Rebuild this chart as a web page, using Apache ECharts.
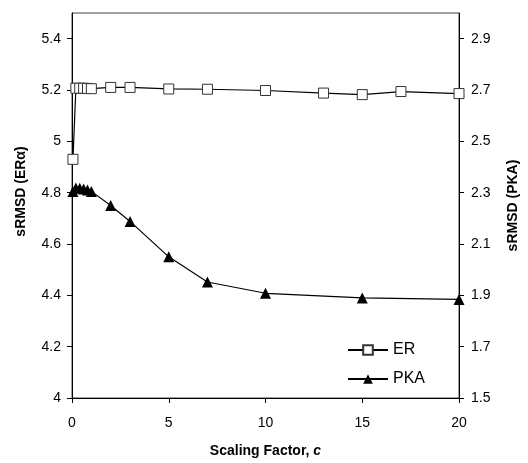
<!DOCTYPE html>
<html>
<head>
<meta charset="utf-8">
<script src="https://cdn.jsdelivr.net/npm/echarts@6/dist/echarts.min.js"></script>
<style>html,body{margin:0;padding:0;background:#fff}#c{width:528px;height:463px}</style>
</head>
<body>
<div id="c"></div>
<script>
const erC   = [0.05, 0.2, 0.4, 0.6, 0.8, 1, 2, 3, 5, 7, 10, 13, 15, 17, 20];
const erVal = [4.93, 5.207, 5.207, 5.207, 5.206, 5.205, 5.21, 5.21, 5.204, 5.203, 5.198, 5.188, 5.182, 5.194, 5.186];
const pkaC   = [0.05, 0.2, 0.4, 0.6, 0.8, 1, 2, 3, 5, 7, 10, 15, 20];
const pkaVal = [2.305, 2.318, 2.317, 2.314, 2.31, 2.305, 2.25, 2.188, 2.05, 1.952, 1.908, 1.89, 1.884];
const xTicks = [0, 5, 10, 15, 20];
const leftTicks = [4, 4.2, 4.4, 4.6, 4.8, 5, 5.2, 5.4];
const rightTicks = [1.5, 1.7, 1.9, 2.1, 2.3, 2.5, 2.7, 2.9];

const font = 'Liberation Sans, Arial, sans-serif';
const chart = echarts.init(document.getElementById('c'));
chart.setOption({
  animation: false,
  backgroundColor: '#fff',
  grid: {left: 72, right: 63, top: 13, bottom: 63, show: true, borderColor: '#444', borderWidth: 1},
  legend: {
    orient: 'vertical', left: 347, top: 342, padding: 0, itemWidth: 40, itemHeight: 12, itemGap: 13,
    textStyle: {fontFamily: font, fontSize: 16, color: '#000'},
    data: ['ER', 'PKA']
  },
  xAxis: {
    type: 'value', min: 0, max: 20,
    axisLine: {show: true, lineStyle: {color: '#000', width: 1}},
    axisTick: {show: true, length: 5, customValues: xTicks, lineStyle: {color: '#000'}},
    axisLabel: {customValues: xTicks, margin: 18, fontFamily: font, fontSize: 14, color: '#000'},
    splitLine: {show: false},
    name: '{a|Scaling Factor, }{b|c}', nameLocation: 'middle', nameGap: 46,
    nameTextStyle: {rich: {
      a: {fontFamily: font, fontSize: 14, fontWeight: 'bold', color: '#000'},
      b: {fontFamily: font, fontSize: 14, fontWeight: 'bold', fontStyle: 'italic', color: '#000'}
    }}
  },
  yAxis: [{
    type: 'value', min: 4, max: 5.5, position: 'left',
    axisLine: {show: true, lineStyle: {color: '#000', width: 1}},
    axisTick: {show: true, length: 5, customValues: leftTicks, lineStyle: {color: '#000'}},
    axisLabel: {customValues: leftTicks, margin: 11, fontFamily: font, fontSize: 14, color: '#000'},
    splitLine: {show: false},
    name: 'sRMSD (ERα)', nameLocation: 'middle', nameGap: 44, nameRotate: 90,
    nameTextStyle: {fontFamily: font, fontSize: 14, fontWeight: 'bold', color: '#000', padding: [0, 0, 0, 28]}
  }, {
    type: 'value', min: 1.5, max: 3.0, position: 'right',
    axisLine: {show: true, lineStyle: {color: '#000', width: 1}},
    axisTick: {show: true, length: 5, customValues: rightTicks, lineStyle: {color: '#000'}},
    axisLabel: {customValues: rightTicks, margin: 12, fontFamily: font, fontSize: 14, color: '#000'},
    splitLine: {show: false},
    name: 'sRMSD (PKA)', nameLocation: 'middle', nameGap: 47, nameRotate: 90,
    nameTextStyle: {fontFamily: font, fontSize: 14, fontWeight: 'bold', color: '#000'}
  }],
  series: [{
    name: 'ER', type: 'line', yAxisIndex: 0,
    data: erC.map((c, i) => [c, erVal[i]]),
    symbol: 'rect', symbolSize: 10, showAllSymbol: true,
    lineStyle: {color: '#000', width: 1.2},
    itemStyle: {color: '#fff', borderColor: '#333', borderWidth: 1}
  }, {
    name: 'PKA', type: 'line', yAxisIndex: 1,
    data: pkaC.map((c, i) => [c, pkaVal[i]]),
    symbol: 'triangle', symbolSize: 11, showAllSymbol: true,
    lineStyle: {color: '#000', width: 1.2},
    itemStyle: {color: '#000', borderColor: '#000', borderWidth: 0}
  }]
});
</script>
</body>
</html>
